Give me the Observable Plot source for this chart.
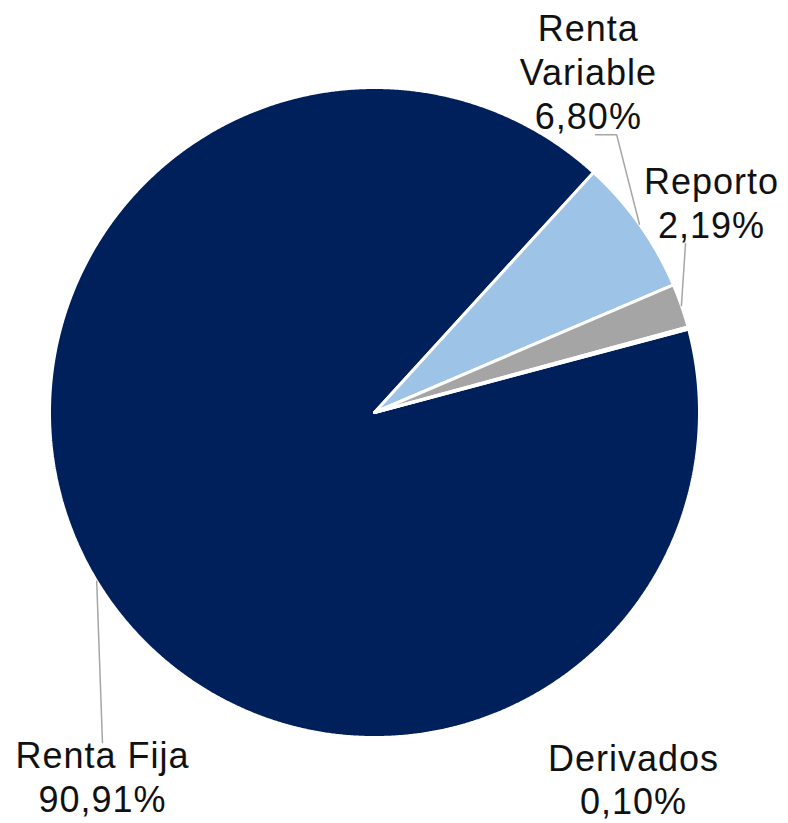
<!DOCTYPE html>
<html>
<head>
<meta charset="utf-8">
<script src="https://cdn.jsdelivr.net/npm/d3@7"></script>
<script src="https://cdn.jsdelivr.net/npm/@observablehq/plot@0.6"></script>
<style>
  html, body { margin: 0; padding: 0; background: #fff; }
  #chart { width: 788px; height: 823px; }
  #chart text { letter-spacing: 1px; }
</style>
</head>
<body>
<div id="chart"></div>
<script>
// ---- Data ----
const categories = ["Renta Fija", "Renta Variable", "Reporto", "Derivados"];
const values = [90.91, 6.80, 2.19, 0.10];
const valueLabels = ["90,91%", "6,80%", "2,19%", "0,10%"];
const colors = ["#00205B", "#9DC3E6", "#A5A5A5", "#00205B"];

// ---- Layout (pie units: center 0,0, radius 1, y up) ----
const startAngle = 75.1; // degrees clockwise from 12 o'clock
const labelText = ["Renta Fija\n90,91%", "Renta\nVariable\n6,80%", "Reporto\n2,19%", "Derivados\n0,10%"];
const labelPos = [[-0.837, -1.117], [0.658, 1.052], [1.037, 0.649], [0.797, -1.126]];
const leaderBends = [[[-0.837, -1.016]], [[0.745, 0.855], [0.68, 0.855]], [[0.957, 0.52]], []];

// ---- Build slice polygons from values ----
const total = d3.sum(values);
const rad = (deg) => deg * Math.PI / 180;
const pt = (deg, r = 1) => [r * Math.sin(rad(deg)), r * Math.cos(rad(deg))];
let acc = startAngle;
const slicePts = [];
const mids = [];
values.forEach((v, i) => {
  const a0 = acc, a1 = acc + v / total * 360;
  acc = a1;
  mids.push((a0 + a1) / 2);
  slicePts.push({x: 0, y: 0, k: categories[i], c: colors[i]});
  const n = Math.max(2, Math.ceil((a1 - a0) / 0.25));
  for (let j = 0; j <= n; j++) {
    const [x, y] = pt(a0 + (a1 - a0) * j / n);
    slicePts.push({x, y, k: categories[i], c: colors[i]});
  }
  slicePts.push({x: 0, y: 0, k: categories[i], c: colors[i]});
});

// leader lines: start at slice midpoint on the arc
const leaderPts = [];
categories.forEach((k, i) => {
  if (!leaderBends[i].length) return;
  const [x0, y0] = pt(mids[i], 1);
  leaderPts.push({x: x0, y: y0, k});
  leaderBends[i].forEach(([x, y]) => leaderPts.push({x, y, k}));
});

const labels = categories.map((k, i) => ({k, text: labelText[i], x: labelPos[i][0], y: labelPos[i][1]}));

const chart = Plot.plot({
  width: 788,
  height: 823,
  margin: 0,
  x: {domain: [-1, 1], range: [49, 699], axis: null},
  y: {domain: [-1, 1], range: [737, 87], axis: null},
  style: {background: "#fff"},
  marks: [
    Plot.line(slicePts, {x: "x", y: "y", z: "k", fill: "c", stroke: "#fff", strokeWidth: 3, strokeLinejoin: "miter", curve: "linear"}),
    Plot.line(leaderPts, {x: "x", y: "y", z: "k", stroke: "#A6A6A6", strokeWidth: 1.5}),
    Plot.text(labels, {x: "x", y: "y", text: "text", fontSize: 36, lineHeight: 1.22, lineAnchor: "middle", textAnchor: "middle", fill: "#111", fontFamily: "Liberation Sans, Arial, sans-serif"})
  ]
});
document.getElementById("chart").appendChild(chart);
</script>
</body>
</html>
